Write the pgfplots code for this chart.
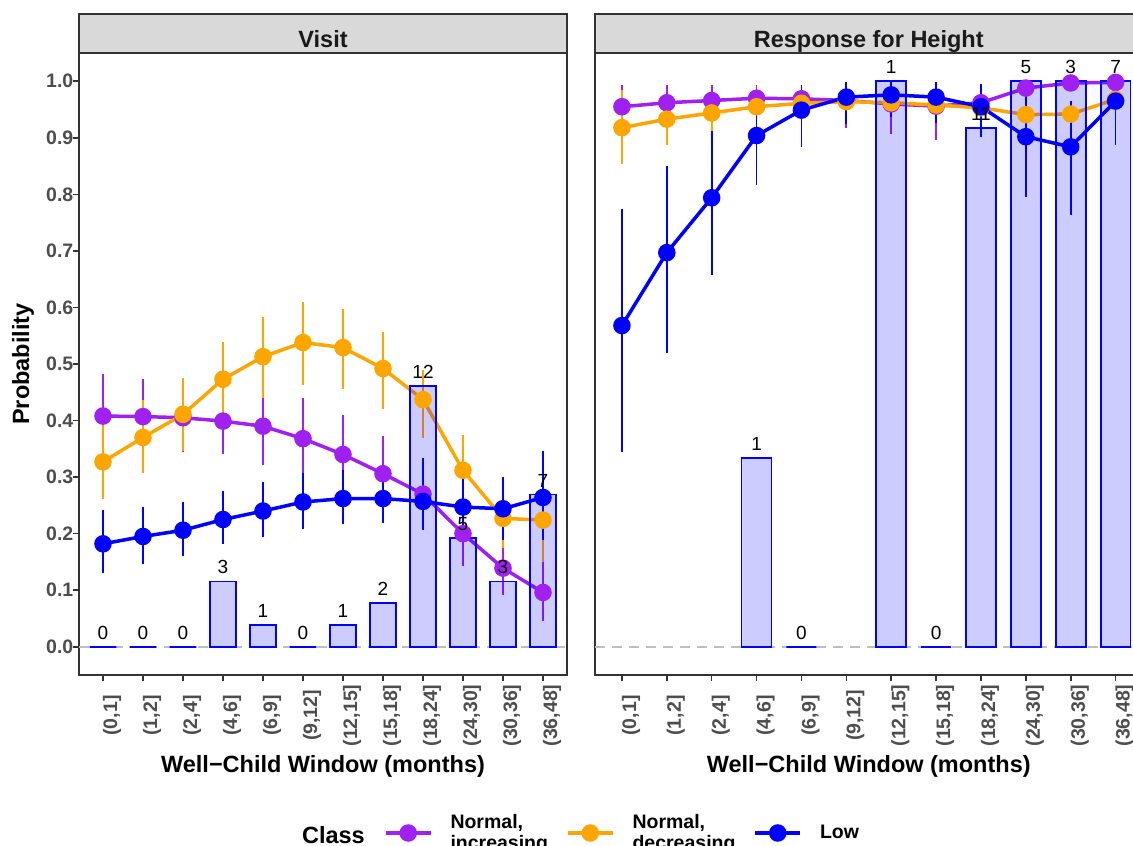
\documentclass[border=0pt]{standalone}
\usepackage{pgfplots}
\pgfplotsset{compat=1.18}
\usepackage{pgfplotstable}
\usepackage{fontspec}
\setmainfont{Liberation Sans}

\definecolor{cinc}{HTML}{A020F0}
\definecolor{cdec}{HTML}{FFA500}
\definecolor{clow}{HTML}{0000FF}
\definecolor{framegray}{HTML}{333333}
\definecolor{tickgray}{HTML}{4D4D4D}
\definecolor{stripfill}{HTML}{D9D9D9}
\definecolor{titlegray}{HTML}{1A1A1A}
\definecolor{refline}{HTML}{BEBEBE}

\newcommand\tickfont{\fontsize{19.5}{21.5}\selectfont\bfseries}
\newcommand\titlefont{\fontsize{23.5}{28}\selectfont\bfseries}
\newcommand\countfont{\fontsize{19}{22}\selectfont}
\newcommand\legendfont{\fontsize{19.5}{21.5}\selectfont\bfseries}
% two-line legend entry, lifted a little without changing its box
\newcommand\twoline[2]{\raisebox{5.5pt}[\height][\depth]{\begin{tabular}{@{}l@{}}#1\\#2\end{tabular}}}

% ---------------- Visit ----------------
\pgfplotstableread{
x y lo hi
1  0.408 0.333 0.483
2  0.407 0.340 0.473
3  0.405 0.345 0.470
4  0.399 0.340 0.460
5  0.390 0.322 0.440
6  0.368 0.307 0.440
7  0.340 0.272 0.410
8  0.306 0.237 0.373
9  0.270 0.210 0.334
10 0.200 0.142 0.260
11 0.139 0.092 0.189
12 0.096 0.045 0.154
}\visitInc
\pgfplotstableread{
x y lo hi
1  0.327 0.262 0.392
2  0.370 0.307 0.437
3  0.411 0.346 0.476
4  0.473 0.402 0.539
5  0.513 0.440 0.583
6  0.538 0.462 0.610
7  0.529 0.455 0.598
8  0.492 0.421 0.556
9  0.437 0.369 0.490
10 0.312 0.248 0.374
11 0.227 0.175 0.280
12 0.224 0.150 0.300
}\visitDec
\pgfplotstableread{
x y lo hi
1  0.182 0.130 0.242
2  0.195 0.146 0.248
3  0.206 0.160 0.256
4  0.225 0.181 0.275
5  0.240 0.194 0.291
6  0.256 0.208 0.307
7  0.262 0.217 0.313
8  0.262 0.219 0.310
9  0.257 0.207 0.334
10 0.247 0.186 0.306
11 0.244 0.189 0.301
12 0.264 0.189 0.346
}\visitLow
\pgfplotstableread{
x p n
1  0      0
2  0      0
3  0      0
4  0.1154 3
5  0.0385 1
6  0      0
7  0.0385 1
8  0.0769 2
9  0.4615 12
10 0.1923 5
11 0.1154 3
12 0.2692 7
}\visitBars

% ---------------- Response for Height ----------------
\pgfplotstableread{
x y lo hi
1  0.955 0.915 0.993
2  0.962 0.930 0.993
3  0.966 0.940 0.994
4  0.970 0.945 0.994
5  0.969 0.945 0.993
6  0.966 0.918 0.990
7  0.960 0.906 0.990
8  0.956 0.896 0.995
9  0.962 0.925 0.995
10 0.988 0.975 0.997
11 0.997 0.990 1.000
12 0.998 0.992 1.000
}\heightInc
\pgfplotstableread{
x y lo hi
1  0.918 0.853 0.985
2  0.933 0.887 0.975
3  0.944 0.912 0.975
4  0.955 0.927 0.978
5  0.961 0.935 0.980
6  0.964 0.940 0.982
7  0.962 0.940 0.980
8  0.958 0.935 0.978
9  0.953 0.930 0.974
10 0.941 0.905 0.965
11 0.942 0.915 0.965
12 0.968 0.940 0.990
}\heightDec
\pgfplotstableread{
x y lo hi
1  0.568 0.345 0.775
2  0.697 0.519 0.851
3  0.794 0.657 0.912
4  0.904 0.816 0.972
5  0.949 0.884 0.993
6  0.972 0.924 0.998
7  0.976 0.936 1.000
8  0.972 0.927 0.998
9  0.955 0.902 0.995
10 0.902 0.796 0.980
11 0.884 0.763 0.965
12 0.965 0.887 0.998
}\heightLow
\pgfplotstableread{
x p n
4  0.3333 1
5  0      0
7  1      1
8  0      0
9  0.9167 11
10 1      5
11 1      3
12 1      7
}\heightBars

\pgfplotsset{
  panel/.style={
    scale only axis, height=622pt,
    xmin=0.4, xmax=12.6, ymin=-0.05, ymax=1.05,
    axis line style={line width=1.6pt, framegray},
    tick style={line width=1.6pt, framegray},
    tick align=outside, major tick length=5.5pt, tick pos=left,
    xtick={1,...,12},
    xticklabels={{(0,1]},{(1,2]},{(2,4]},{(4,6]},{(6,9]},{(9,12]},{(12,15]},{(15,18]},{(18,24]},{(24,30]},{(30,36]},{(36,48]}},
    xticklabel style={font=\tickfont, text=tickgray, inner sep=0pt, xshift=9.1pt, yshift=-35pt, rotate=90, anchor=center},
    yticklabel style={font=\tickfont, text=tickgray, inner sep=0pt, anchor=east},
    xlabel={Well−Child Window (months)},
    xlabel style={at={(axis description cs:0.5,-0.156)}, anchor=base, font=\titlefont, text=black, inner sep=0pt},
    clip=false,
  },
  series/.style={line width=3.5pt, color=#1, mark=*, mark size=7pt,
    mark options={draw=none, fill=#1, solid},
    error bars/y dir=both, error bars/y explicit, error bars/error mark=none,
    error bars/error bar style={line width=1.8pt, color=#1}},
  counts/.style={ybar, bar width=0.667, fill=clow, fill opacity=0.2, draw=clow,
    line width=1.8pt, mark=none, forget plot,
    point meta=explicit,
    nodes near coords={\countfont\pgfmathprintnumber[assume math mode=true]{\pgfplotspointmeta}},
    nodes near coords style={anchor=south, yshift=6.5pt, text=black,
      text opacity=1, fill opacity=1, opacity=1, inner sep=0pt}},
  zeroline/.style={refline, line width=1.8pt, dash pattern=on 10pt off 7pt, forget plot},
}

\begin{document}
\begin{tikzpicture}
% Visit panel
\begin{axis}[panel, name=left, at={(79pt,-675pt)}, anchor=south west, width=488pt,
  ytick={0,0.1,0.2,0.3,0.4,0.5,0.6,0.7,0.8,0.9,1.0},
  yticklabels={0.0,0.1,0.2,0.3,0.4,0.5,0.6,0.7,0.8,0.9,1.0},
  ylabel={Probability},
  ylabel style={at={(axis description cs:-0.1148,0.5)}, anchor=center, font=\titlefont, text=black, inner sep=0pt},
  legend columns=3,
  legend style={at={(axis description cs:0.625,-0.254)}, anchor=west, draw=none, fill=none,
    inner sep=0pt, outer sep=0pt, column sep=18pt, cells={anchor=west},
    nodes={inner sep=0pt, font=\legendfont, text=black}},
  legend image code/.code={\draw[mark repeat=2, mark phase=2] plot coordinates {(0pt,0pt) (22.5pt,0pt) (45pt,0pt)};},
]
\addplot[zeroline] coordinates {(0.4,0) (12.6,0)};
\addplot[series=cinc] table[x=x, y=y, y error plus expr=\thisrow{hi}-\thisrow{y}, y error minus expr=\thisrow{y}-\thisrow{lo}] {\visitInc};
\addlegendentry{\twoline{Normal,}{increasing}}
\addplot[series=cdec] table[x=x, y=y, y error plus expr=\thisrow{hi}-\thisrow{y}, y error minus expr=\thisrow{y}-\thisrow{lo}] {\visitDec};
\addlegendentry{\twoline{Normal,}{decreasing}}
\addplot[series=clow] table[x=x, y=y, y error plus expr=\thisrow{hi}-\thisrow{y}, y error minus expr=\thisrow{y}-\thisrow{lo}] {\visitLow};
\addlegendentry{Low}
\addplot[counts] table[x=x, y=p, meta=n] {\visitBars};
\end{axis}

% Response for Height panel
\begin{axis}[panel, name=right, at={(595pt,-675pt)}, anchor=south west, width=547.5pt,
  ytick=\empty]
\addplot[zeroline] coordinates {(0.4,0) (12.6,0)};
\addplot[series=cinc] table[x=x, y=y, y error plus expr=\thisrow{hi}-\thisrow{y}, y error minus expr=\thisrow{y}-\thisrow{lo}] {\heightInc};
\addplot[series=cdec] table[x=x, y=y, y error plus expr=\thisrow{hi}-\thisrow{y}, y error minus expr=\thisrow{y}-\thisrow{lo}] {\heightDec};
\addplot[series=clow] table[x=x, y=y, y error plus expr=\thisrow{hi}-\thisrow{y}, y error minus expr=\thisrow{y}-\thisrow{lo}] {\heightLow};
\addplot[counts] table[x=x, y=p, meta=n] {\heightBars};
\end{axis}

% facet strips
\draw[fill=stripfill, draw=framegray, line width=1.6pt] (79pt,-53pt) rectangle (567pt,-14pt);
\node[anchor=base, font=\titlefont, text=titlegray, inner sep=0pt] at (323pt,-47.5pt) {Visit};
\draw[fill=stripfill, draw=framegray, line width=1.6pt] (595pt,-53pt) rectangle (1142.5pt,-14pt);
\node[anchor=base, font=\titlefont, text=titlegray, inner sep=0pt] at (868.75pt,-47.5pt) {Response for Height};

% legend title
\node[anchor=base east, font=\titlefont, text=black, inner sep=0pt] at (365pt,-843pt) {Class};

\pgfresetboundingbox
\path[use as bounding box] (0pt,0pt) rectangle (1133pt,-846pt);
\end{tikzpicture}
\end{document}
